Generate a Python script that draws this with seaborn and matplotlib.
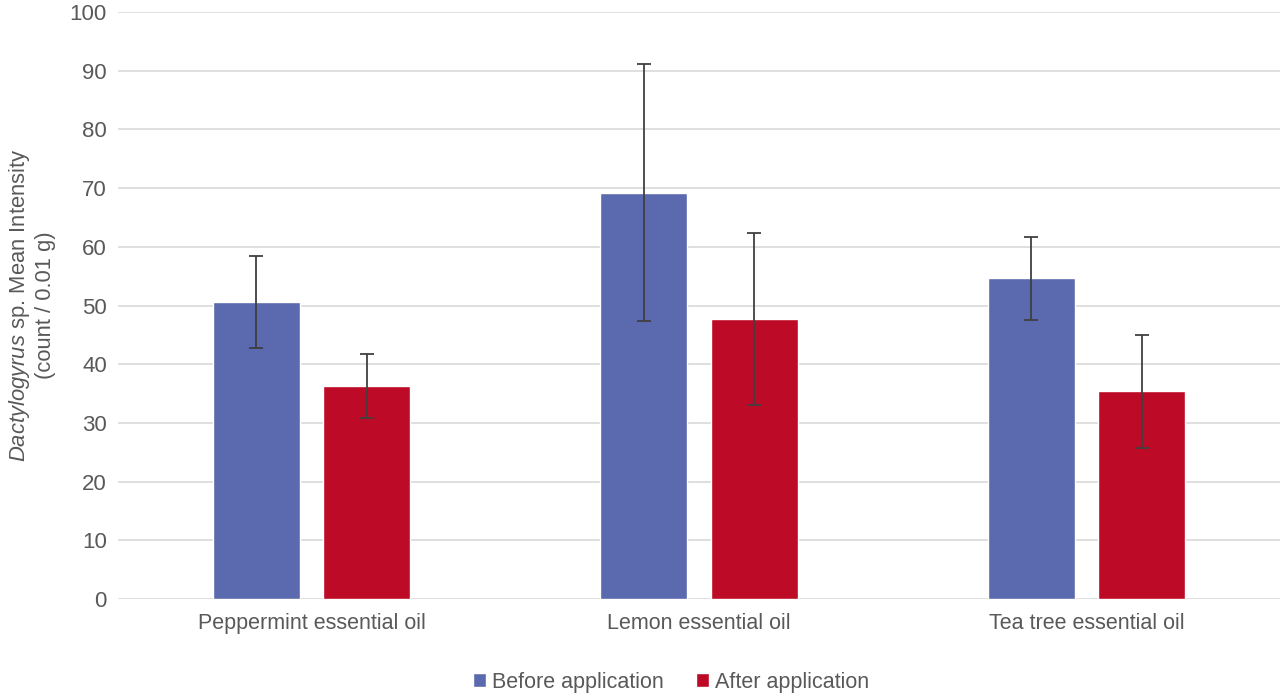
import matplotlib
matplotlib.use("Agg")
import matplotlib.pyplot as plt
import seaborn as sns
import pandas as pd
from matplotlib.font_manager import fontManager

oils = ["Peppermint essential oil", "Lemon essential oil", "Tea tree essential oil"]
phases = ["Before application", "After application"]
before_mean = [50.6, 69.2, 54.6]
after_mean = [36.3, 47.7, 35.4]
before_err = [7.8, 21.9, 7.1]
after_err = [5.5, 14.7, 9.6]

colors = ["#5b69ae", "#bd0a26"]

names = {f.name for f in fontManager.ttflist}
main_font = "Liberation Sans Narrow" if "Liberation Sans Narrow" in names else "Liberation Sans"

sns.set_theme(style="white")
plt.rcParams["font.family"] = [main_font, "DejaVu Sans"]
plt.rcParams["mathtext.fontset"] = "custom"
plt.rcParams["mathtext.it"] = main_font + ":italic"
plt.rcParams["mathtext.rm"] = main_font

df = pd.DataFrame({
    "oil": oils * 2,
    "phase": [phases[0]] * 3 + [phases[1]] * 3,
    "mean": before_mean + after_mean,
    "err": before_err + after_err,
})

fig = plt.figure(figsize=(12.8, 6.94), dpi=100)
ax = fig.add_axes([118 / 1280, 1 - 599 / 694, 1162 / 1280, 587 / 694])

sns.barplot(data=df, x="oil", y="mean", hue="phase", order=oils, hue_order=phases,
            palette=colors, width=0.57, gap=0.21, errorbar=None, saturation=1,
            ax=ax, zorder=2)

# error bars at each bar's centre
for container, phase in zip(ax.containers, phases):
    sub = df[df["phase"] == phase].set_index("oil").loc[oils]
    xs = [p.get_x() + p.get_width() / 2 for p in container.patches]
    ax.errorbar(xs, sub["mean"], yerr=sub["err"], fmt="none", ecolor="#404040",
                elinewidth=1.3, capsize=5, capthick=1.3, zorder=3)

ax.set_ylim(0, 100)
ax.set_xlim(-0.5, 2.5)
ax.set_yticks(range(0, 101, 10))
ax.yaxis.grid(True, color="#d9d9d9", linewidth=1.2, zorder=0)
ax.set_axisbelow(True)
for s in ax.spines.values():
    s.set_visible(False)
ax.tick_params(axis="both", length=0, labelsize=16, colors="#595959", pad=8)
ax.tick_params(axis="x", labelsize=15.5, pad=10)
ax.set_xlabel("")
ax.set_ylabel(r"$\it{Dactylogyrus}$ sp. Mean Intensity" + "\n(count / 0.01 g)",
              fontsize=15.8, color="#595959", labelpad=10, linespacing=1.15)

ax.legend(loc="upper center", bbox_to_anchor=(0.476, -0.098), ncol=2, frameon=False,
          fontsize=15.5, handlelength=0.6, handleheight=0.6, handletextpad=0.3,
          columnspacing=1.5, labelcolor="#595959", borderpad=0.2)

fig.savefig("out.png", dpi=100)
